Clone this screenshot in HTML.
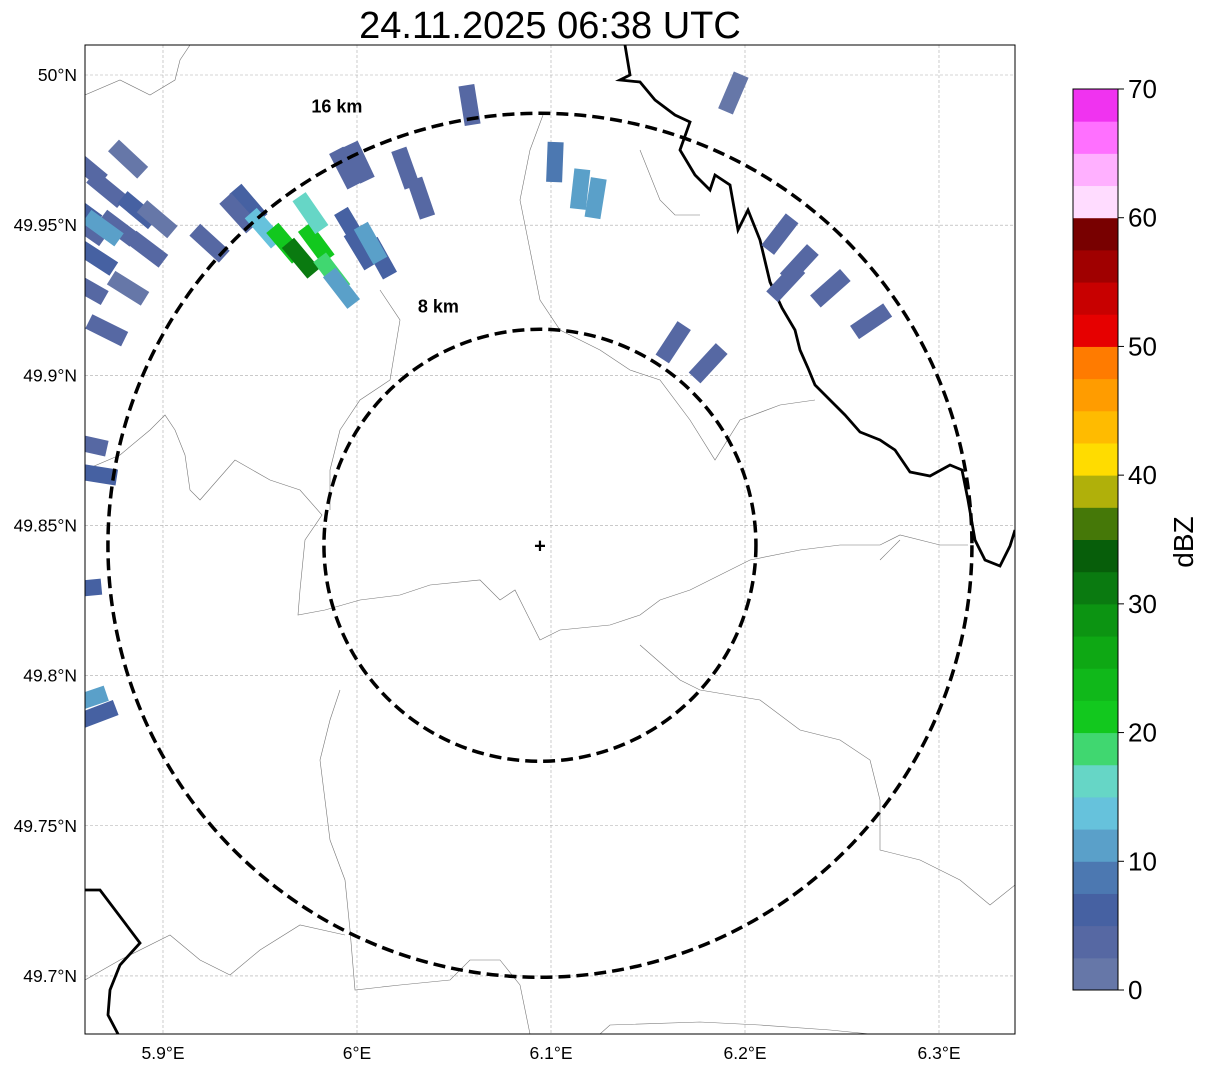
<!DOCTYPE html>
<html><head><meta charset="utf-8"><style>
body{margin:0;background:#fff;font-family:"Liberation Sans",sans-serif;}
svg{display:block}
</style></head><body>
<svg id="chart" width="1207" height="1069" xmlns="http://www.w3.org/2000/svg" font-family="Liberation Sans, sans-serif">
<text x="550" y="38" font-size="38" text-anchor="middle">24.11.2025 06:38 UTC</text>
<defs><clipPath id="mapclip"><rect x="85" y="45" width="930" height="989"/></clipPath></defs>
<g id="grid"></g>
<g id="borders" clip-path="url(#mapclip)"></g>
<g id="echoes" clip-path="url(#mapclip)"></g>
<g id="rings"></g>
<rect x="85" y="45" width="930" height="989" fill="none" stroke="#000" stroke-width="1"/>
<g id="axes"></g>
<g id="cbar"></g>
</svg>
<script>
const lonTicks=[5.9,6.0,6.1,6.2,6.3];
const lonLabels=["5.9°E","6°E","6.1°E","6.2°E","6.3°E"];
const latTicks=[50.0,49.95,49.9,49.85,49.8,49.75,49.7];
const latLabels=["50°N","49.95°N","49.9°N","49.85°N","49.8°N","49.75°N","49.7°N"];
const radarLon=6.0943, radarLat=49.8434;
const ringKm=[8,16];
const cellLon=[5.861,5.871,5.882,5.887,5.892,5.877,5.866,5.861,5.882,5.871,5.858,5.897,5.861,5.869,5.944,5.939,5.952,5.963,5.971,5.979,5.987,5.976,5.997,6.002,6.012,5.992,6.007,5.924,5.994,6.001,6.025,6.033,6.058,6.102,6.115,6.123,6.163,6.181,6.194,6.218,6.221,6.228,6.244,6.265,5.861,5.866,5.858,5.861,5.866];
const cellLat=[49.969,49.962,49.972,49.955,49.942,49.949,49.939,49.929,49.929,49.915,49.955,49.952,49.949,49.949,49.957,49.954,49.949,49.944,49.939,49.944,49.934,49.954,49.949,49.942,49.939,49.929,49.944,49.944,49.969,49.971,49.969,49.959,49.990,49.971,49.962,49.959,49.911,49.904,49.994,49.947,49.931,49.937,49.929,49.918,49.877,49.867,49.829,49.792,49.787];
const cellDbz=[3,4,2,5,3,4,6,3,2,3,5,2,4,12,5,4,13,22,30,20,18,15,5,7,5,10,12,3,3,3,4,4,3,8,12,10,4,4,2,4,4,4,4,4,4,5,6,11,5];
const cbarColors=["#6677a8","#5668a3","#4661a2","#4c78b1","#5aa0c9","#66c2dc","#66d6c6","#40d770","#12c81e","#10b81a","#0ea814","#0c9412","#0a7a10","#075e0a","#457808","#b0b00a","#ffdc00","#ffbb00","#ff9c00","#ff7b00","#e60000","#c80000","#a00000","#780000","#ffdcff","#ffb0ff","#ff70ff","#f033f0"];
const cbarTicks=[0,10,20,30,40,50,60,70];

const NS="http://www.w3.org/2000/svg";
function X(lon){return 163+(lon-5.9)*1940;}
function Y(lat){return 75+(50-lat)*3003;}
function el(t,a,p){const e=document.createElementNS(NS,t);for(const k in a)e.setAttribute(k,a[k]);p.appendChild(e);return e;}
const grid=document.getElementById('grid'),axes=document.getElementById('axes');
lonTicks.forEach((v,i)=>{
  const l=el('line',{x1:X(v),x2:X(v),y1:45,y2:1034,stroke:'#aaa','stroke-width':0.6,'stroke-dasharray':'3,2'},grid);
  
  const t=el('text',{x:X(v),y:1059,'font-size':17.5,'text-anchor':'middle'},axes);t.textContent=lonLabels[i];
  
});
latTicks.forEach((v,i)=>{
  const l=el('line',{x1:85,x2:1015,y1:Y(v),y2:Y(v),stroke:'#aaa','stroke-width':0.6,'stroke-dasharray':'3,2'},grid);
  
  const t=el('text',{x:77,y:Y(v)+6,'font-size':17.5,'text-anchor':'end'},axes);t.textContent=latLabels[i];
  
});
const bd=document.getElementById('borders');
const thin=[
"85,95 120,80 150,95 175,80 180,60 190,45",
"85,470 120,455 150,430 165,415 175,430 185,455 190,490 200,500 235,460 270,480 300,490 322,515 305,540 300,590 298,615 325,610 360,600 400,595 430,585 480,580 500,600 515,590 530,620 540,640 560,630 610,625 640,615 660,600 690,590 720,575 750,560 800,550 840,545 880,545 900,535 940,545 968,545",
"543,115 530,150 520,200 530,250 540,300 560,330 600,350 630,370 660,380 690,420 715,460 740,420 780,405 815,400",
"380,290 400,320 395,350 390,380 360,400 340,430 330,470 330,510",
"640,150 660,200 675,215 700,215",
"340,690 330,720 320,760 325,800 330,840 345,880 350,930 355,990 400,985 450,980 470,960 500,960 520,985 530,1034",
"85,980 120,960 170,935 200,960 230,975 260,950 300,925 345,935",
"640,645 680,680 700,690 760,700 800,730 840,740 870,760 880,800 880,850 920,860 960,880 990,905 1015,885",
"880,560 900,540",
"600,1034 610,1025 700,1022 760,1025 830,1030 870,1034"];
thin.forEach(p=>{const e=el('polyline',{points:p,fill:'none',stroke:'#777','stroke-width':0.6},bd);});
const thick=["625,45 630,75 620,80 640,82 655,100 675,115 690,122 680,150 695,175 710,190 715,175 730,185 738,230 748,210 760,240 770,282 782,308 795,330 800,350 808,368 815,385 830,400 845,415 860,432 880,440 895,450 910,472 930,476 950,465 962,470 968,500 975,540 985,560 1000,566 1010,546 1015,530",
"85,890 100,890 140,943 120,965 110,990 108,1015 118,1034"];
thick.forEach(p=>{const e=el('polyline',{points:p,fill:'none',stroke:'#000','stroke-width':2.8},bd);});
const ec=document.getElementById('echoes');
function colorFor(d){let i=Math.floor(d/2.5);i=Math.max(0,Math.min(cbarColors.length-1,i));return cbarColors[i];}
const rcx=X(radarLon),rcy=Y(radarLat);
cellLon.forEach((lo,i)=>{
  const x=X(lo),y=Y(cellLat[i]);
  const ang=Math.atan2(y-rcy,x-rcx)*180/Math.PI+90;
  const r=el('rect',{x:x-8,y:y-20,width:16,height:40,fill:colorFor(cellDbz[i]),transform:`rotate(${ang} ${x} ${y})`},ec);
  
});
const rg=document.getElementById('rings');
const pxPerKm=216/8;
ringKm.forEach(k=>{
  const c=el('circle',{cx:rcx,cy:rcy,r:k*pxPerKm,fill:'none',stroke:'#000','stroke-width':3.5,'stroke-dasharray':'12,6'},rg);
  
  const t=el('text',{x:rcx-k*pxPerKm*0.47,y:rcy-k*pxPerKm*1.0+(k==8?-17:-1),'font-size':18,'font-weight':'bold','text-anchor':'middle'},rg);
  t.textContent=k+' km';
});
const mk=el('text',{x:rcx,y:rcy+7,'font-size':20,'font-weight':'bold','text-anchor':'middle'},rg);mk.textContent='+';

const cb=document.getElementById('cbar');
const cbTop=89,cbBot=990,cbH=(cbBot-cbTop)/cbarColors.length;
cbarColors.forEach((c,i)=>{const r=el('rect',{x:1073,y:cbBot-(i+1)*cbH,width:45,height:cbH+0.5,fill:c},cb);});
el('rect',{x:1073,y:cbTop,width:45,height:cbBot-cbTop,fill:'none',stroke:'#000','stroke-width':1},cb);
cbarTicks.forEach(v=>{const y=cbBot-(v/70)*(cbBot-cbTop);
  el('line',{x1:1118,x2:1124,y1:y,y2:y,stroke:'#000'},cb);
  const t=el('text',{x:1128,y:y+9,'font-size':26},cb);t.textContent=v;
  });
const lab=el('text',{x:1193,y:542,'font-size':28,'text-anchor':'middle',transform:'rotate(-90 1193 542)'},cb);lab.textContent='dBZ';

</script>
</body></html>
